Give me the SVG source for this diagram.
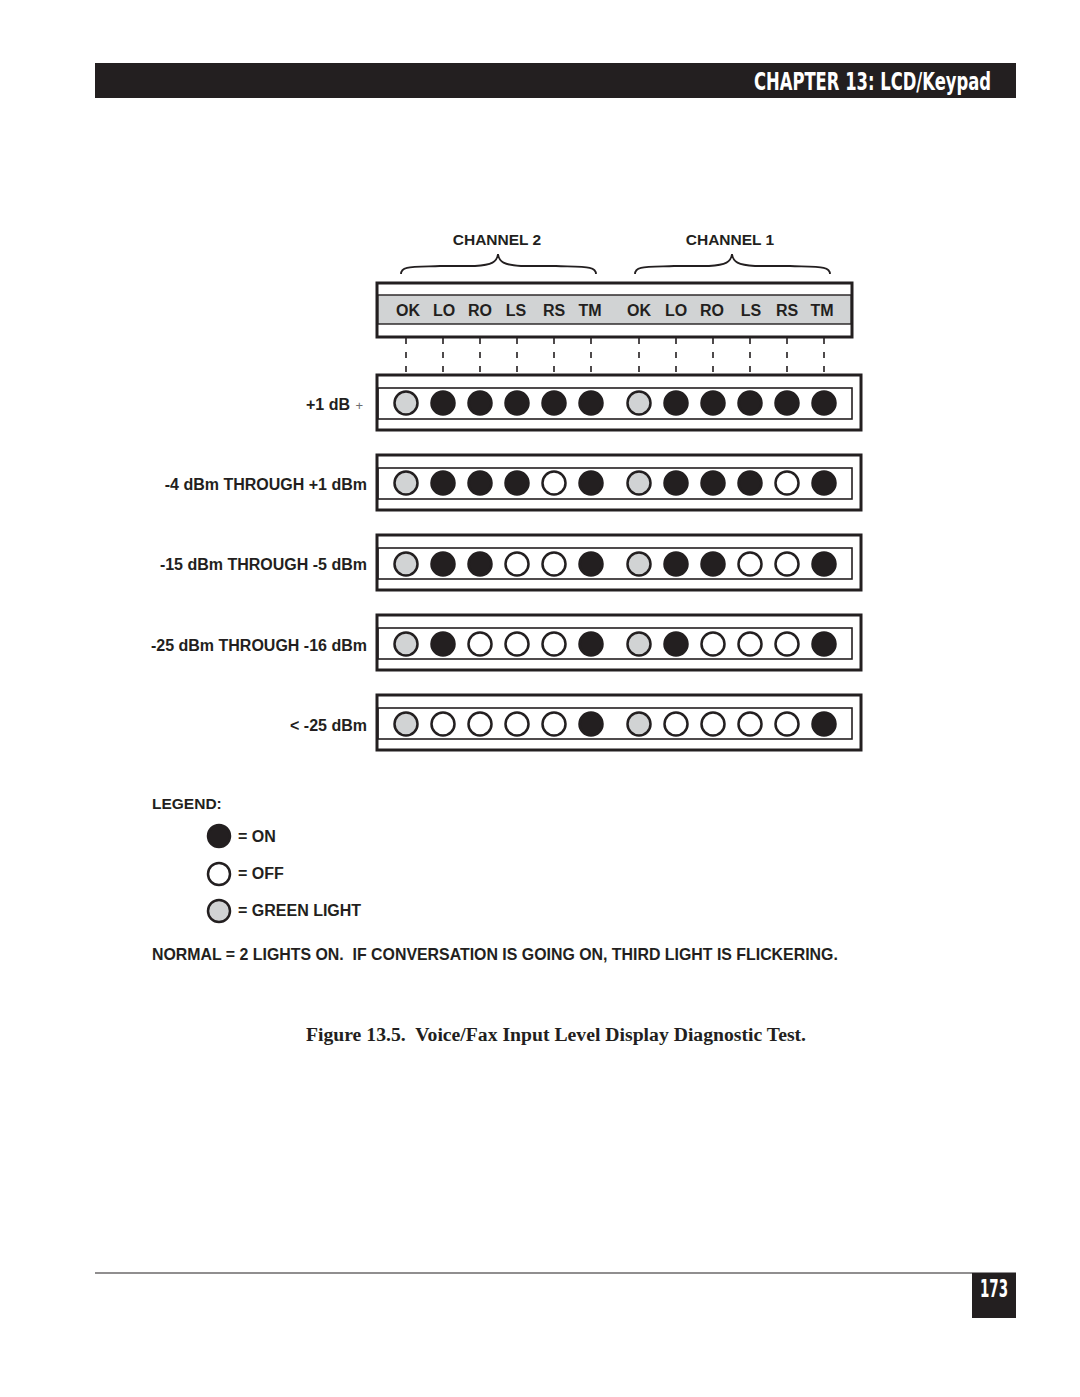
<svg xmlns="http://www.w3.org/2000/svg" width="1080" height="1397" viewBox="0 0 1080 1397">
<style>
.sans{font-family:"Liberation Sans",Arial,sans-serif;font-weight:bold;fill:#231f20}
.lbl{font-size:16px;text-anchor:end}
.col{font-size:15.5px;text-anchor:middle}
.cond{font-family:"Liberation Sans Narrow","DejaVu Sans Condensed",sans-serif;font-weight:bold;fill:#fff}
.frame{fill:#fff;stroke:#231f20;stroke-width:3}
.inner{fill:none;stroke:#231f20;stroke-width:1.6}
.on{fill:#231f20;stroke:#231f20;stroke-width:2.5}
.off{fill:#fff;stroke:#231f20;stroke-width:2.5}
.grn{fill:#d1d3d4;stroke:#231f20;stroke-width:2.5}
.tick{stroke:#231f20;stroke-width:1.6;stroke-dasharray:6 8}
.brace{fill:none;stroke:#231f20;stroke-width:1.8}
</style>
<rect width="1080" height="1397" fill="#fff"/>
<g id="header">
<rect x="95" y="63" width="921" height="35" fill="#231f20"/>
<text class="cond" x="991" y="90" font-size="25" text-anchor="end" textLength="237" lengthAdjust="spacingAndGlyphs">CHAPTER 13: LCD/Keypad</text>
</g>
<g id="channel-labels">
<text class="sans col" x="497" y="245">CHANNEL 2</text>
<text class="sans col" x="730" y="245">CHANNEL 1</text>
<path class="brace" d="M401 274 C401 266 410 267 440 266 L475 266 C492 265 497 262 498 254 C499 262 504 265 521 266 L556 266 C586 267 596 266 596 274"/>
<path class="brace" d="M635 274 C635 266 644 267 674 266 L709 266 C726 265 731 262 732 254 C733 262 738 265 755 266 L790 266 C820 267 830 266 830 274"/>
</g>
<g id="label-panel">
<rect class="frame" x="377" y="283" width="475" height="54"/>
<rect x="378" y="295" width="473" height="29" fill="#d1d3d4" stroke="#231f20" stroke-width="1.4"/>
<g class="sans" font-size="16" text-anchor="middle">
<text x="408" y="316">OK</text><text x="444" y="316">LO</text><text x="480" y="316">RO</text><text x="516" y="316">LS</text><text x="554" y="316">RS</text><text x="590" y="316">TM</text>
<text x="639" y="316">OK</text><text x="676" y="316">LO</text><text x="712" y="316">RO</text><text x="751" y="316">LS</text><text x="787" y="316">RS</text><text x="822" y="316">TM</text>
</g>
</g>
<g id="connectors">
<path class="tick" d="M406 338V373M443 338V373M480 338V373M517 338V373M554 338V373M591 338V373M639 338V373M676 338V373M713 338V373M750 338V373M787 338V373M824 338V373"/>
</g>
<defs>
<g id="frame">
<rect class="frame" x="377" y="0" width="484" height="55"/>
<rect class="inner" x="378" y="13" width="474" height="31"/>
</g>
</defs>
<g id="row1">
<use href="#frame" y="375"/>
<circle class="grn" cx="406" cy="403" r="11.5"/><circle class="on" cx="443" cy="403" r="11.5"/><circle class="on" cx="480" cy="403" r="11.5"/><circle class="on" cx="517" cy="403" r="11.5"/><circle class="on" cx="554" cy="403" r="11.5"/><circle class="on" cx="591" cy="403" r="11.5"/>
<circle class="grn" cx="639" cy="403" r="11.5"/><circle class="on" cx="676" cy="403" r="11.5"/><circle class="on" cx="713" cy="403" r="11.5"/><circle class="on" cx="750" cy="403" r="11.5"/><circle class="on" cx="787" cy="403" r="11.5"/><circle class="on" cx="824" cy="403" r="11.5"/>
<text class="sans lbl" x="350" y="410">+1 dB</text>
<text x="363" y="410" font-family="Liberation Sans,Arial,sans-serif" font-size="13" fill="#6d6e71" text-anchor="end">+</text>
</g>
<g id="row2">
<use href="#frame" y="455"/>
<circle class="grn" cx="406" cy="483" r="11.5"/><circle class="on" cx="443" cy="483" r="11.5"/><circle class="on" cx="480" cy="483" r="11.5"/><circle class="on" cx="517" cy="483" r="11.5"/><circle class="off" cx="554" cy="483" r="11.5"/><circle class="on" cx="591" cy="483" r="11.5"/>
<circle class="grn" cx="639" cy="483" r="11.5"/><circle class="on" cx="676" cy="483" r="11.5"/><circle class="on" cx="713" cy="483" r="11.5"/><circle class="on" cx="750" cy="483" r="11.5"/><circle class="off" cx="787" cy="483" r="11.5"/><circle class="on" cx="824" cy="483" r="11.5"/>
<text class="sans lbl" x="367" y="490">-4 dBm THROUGH +1 dBm</text>
</g>
<g id="row3">
<use href="#frame" y="535"/>
<circle class="grn" cx="406" cy="564" r="11.5"/><circle class="on" cx="443" cy="564" r="11.5"/><circle class="on" cx="480" cy="564" r="11.5"/><circle class="off" cx="517" cy="564" r="11.5"/><circle class="off" cx="554" cy="564" r="11.5"/><circle class="on" cx="591" cy="564" r="11.5"/>
<circle class="grn" cx="639" cy="564" r="11.5"/><circle class="on" cx="676" cy="564" r="11.5"/><circle class="on" cx="713" cy="564" r="11.5"/><circle class="off" cx="750" cy="564" r="11.5"/><circle class="off" cx="787" cy="564" r="11.5"/><circle class="on" cx="824" cy="564" r="11.5"/>
<text class="sans lbl" x="367" y="570">-15 dBm THROUGH -5 dBm</text>
</g>
<g id="row4">
<use href="#frame" y="615"/>
<circle class="grn" cx="406" cy="644" r="11.5"/><circle class="on" cx="443" cy="644" r="11.5"/><circle class="off" cx="480" cy="644" r="11.5"/><circle class="off" cx="517" cy="644" r="11.5"/><circle class="off" cx="554" cy="644" r="11.5"/><circle class="on" cx="591" cy="644" r="11.5"/>
<circle class="grn" cx="639" cy="644" r="11.5"/><circle class="on" cx="676" cy="644" r="11.5"/><circle class="off" cx="713" cy="644" r="11.5"/><circle class="off" cx="750" cy="644" r="11.5"/><circle class="off" cx="787" cy="644" r="11.5"/><circle class="on" cx="824" cy="644" r="11.5"/>
<text class="sans lbl" x="367" y="651">-25 dBm THROUGH -16 dBm</text>
</g>
<g id="row5">
<use href="#frame" y="695"/>
<circle class="grn" cx="406" cy="724" r="11.5"/><circle class="off" cx="443" cy="724" r="11.5"/><circle class="off" cx="480" cy="724" r="11.5"/><circle class="off" cx="517" cy="724" r="11.5"/><circle class="off" cx="554" cy="724" r="11.5"/><circle class="on" cx="591" cy="724" r="11.5"/>
<circle class="grn" cx="639" cy="724" r="11.5"/><circle class="off" cx="676" cy="724" r="11.5"/><circle class="off" cx="713" cy="724" r="11.5"/><circle class="off" cx="750" cy="724" r="11.5"/><circle class="off" cx="787" cy="724" r="11.5"/><circle class="on" cx="824" cy="724" r="11.5"/>
<text class="sans lbl" x="367" y="731">&lt; -25 dBm</text>
</g>
<g id="legend">
<text class="sans" x="152" y="809" font-size="15.5">LEGEND:</text>
<circle class="on" cx="219" cy="836" r="11"/>
<text class="sans" x="238" y="842" font-size="16">= ON</text>
<circle class="off" cx="219" cy="874" r="11"/>
<text class="sans" x="238" y="879" font-size="16">= OFF</text>
<circle class="grn" cx="219" cy="911" r="11"/>
<text class="sans" x="238" y="916" font-size="16">= GREEN LIGHT</text>
</g>
<g id="note">
<text class="sans" x="152" y="960" font-size="15.9" xml:space="preserve">NORMAL = 2 LIGHTS ON.  IF CONVERSATION IS GOING ON, THIRD LIGHT IS FLICKERING.</text>
</g>
<g id="caption">
<text x="556" y="1041" font-family="Liberation Serif,'Times New Roman',serif" font-weight="bold" font-size="19.7" fill="#231f20" text-anchor="middle" xml:space="preserve">Figure 13.5.  Voice/Fax Input Level Display Diagnostic Test.</text>
</g>
<g id="footer">
<line x1="95" y1="1273" x2="1016" y2="1273" stroke="#231f20" stroke-width="1.2"/>
<rect x="972" y="1273" width="44" height="45" fill="#231f20"/>
<text class="cond" x="994" y="1297" font-size="24" text-anchor="middle" textLength="28" lengthAdjust="spacingAndGlyphs">173</text>
</g>
</svg>
